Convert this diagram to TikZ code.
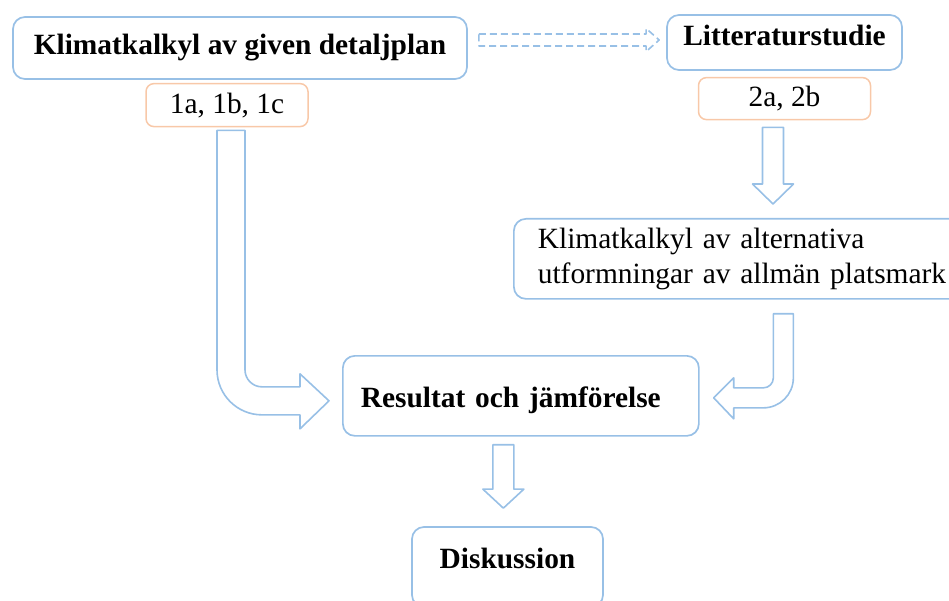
\documentclass[tikz,border=0pt]{standalone}
\usepackage{fontspec}
\setmainfont{Liberation Serif}
\usepackage{xcolor}
\usepackage{tikz}
\usetikzlibrary{positioning,calc}
\definecolor{flowblue}{RGB}{152,192,230}
\definecolor{flowpeach}{RGB}{248,200,168}

\begin{document}
\begin{tikzpicture}[
    x=1pt, y=-1pt,
    mainbox/.style={rectangle, draw=flowblue, line width=1.7pt, rounded corners=12pt, inner sep=0pt, font=\fontsize{29.4}{35}\selectfont, align=center},
    tagbox/.style={rectangle, draw=flowpeach, line width=1.5pt, rounded corners=8pt, inner sep=0pt, minimum height=42pt, font=\fontsize{29.4}{35}\selectfont},
    bold/.style={font=\fontsize{29.4}{35}\selectfont\bfseries},
    blockarrow/.style={draw=flowblue, line width=1.6pt, line join=round, fill=white},
    dashedarrow/.style={blockarrow, dash pattern=on 7pt off 4pt}
]
\useasboundingbox (0,0) rectangle (949,601);

% Given plan
\node[mainbox, bold, minimum width=454pt, minimum height=62pt] (given) at (240,48) {Klimatkalkyl av given detaljplan};
\node[tagbox, minimum width=162pt, minimum height=43pt, below=3pt of given, xshift=-13pt] (tagone) {1a, 1b, 1c};

% Literature study
\node[mainbox, bold, minimum width=235pt, minimum height=55pt, text depth=15pt] (litt) at (784.5,42.5) {Litteraturstudie};
\node[tagbox, minimum width=172pt, below=6pt of litt] (tagtwo) {2a, 2b};

% Alternatives
\node[mainbox, anchor=north west, align=left, text width=410pt, inner xsep=24pt, minimum height=80pt] (alt) at (513,218) {Klimatkalkyl av alternativa\\utformningar av allmän platsmark};

% Result
\node[mainbox, bold, anchor=north west, align=left, text width=320pt, inner xsep=18pt, minimum height=80pt, text height=30pt, text depth=6pt] (res) at (342,355) {Resultat och jämförelse};

% Discussion
\node[mainbox, bold, minimum width=191pt, minimum height=80pt, text height=20pt, text depth=18pt] (dis) at (507.5,567) {Diskussion};

% Dashed arrow
\coordinate (sa) at ($(given.east)+(11,-8)$);
\coordinate (ta) at ($(litt.west)+(-7,-2.5)$);
\draw[dashedarrow] ($(sa)+(0,-6)$) -- ($(ta)+(-13,-6)$) -- ($(ta)+(-13,-11.5)$) -- (ta)
    -- ($(ta)+(-13,11.5)$) -- ($(ta)+(-13,6)$) -- ($(sa)+(0,6)$) -- cycle;

% Bent arrow, given plan to result
\coordinate (sb) at ($(tagone.south)+(4,3)$);
\coordinate (tb) at ($(res.west)+(-13,5)$);
\draw[blockarrow] ($(sb)+(-14,0)$) -- ($(sb |- tb)+(-14,-31)$) arc[start angle=180, end angle=90, radius=45]
    -- ($(tb)+(-29,14)$) -- ($(tb)+(-29,28)$) -- (tb) -- ($(tb)+(-29,-27)$) -- ($(tb)+(-29,-14)$)
    -- ($(sb |- tb)+(31,-14)$) arc[start angle=90, end angle=180, radius=17] -- ($(sb)+(14,0)$) -- cycle;

% Down arrow, literature study to alternatives
\coordinate (sc) at ($(tagtwo.south)+(-11.5,7)$);
\coordinate (tc) at ($(sc |- alt.north)+(0,-14)$);
\draw[blockarrow] ($(sc)+(-10.5,0)$) -- ($(tc)+(-10.5,-20)$) -- ($(tc)+(-20.5,-20)$) -- (tc)
    -- ($(tc)+(20.5,-20)$) -- ($(tc)+(10.5,-20)$) -- ($(sc)+(10.5,0)$) -- cycle;

% Bent arrow, alternatives to result
\coordinate (sd) at ($(alt.south)+(40.5,14)$);
\coordinate (td) at ($(res.east)+(14,2)$);
\draw[blockarrow] ($(sd)+(10,0)$) -- ($(sd |- td)+(10,-20)$) arc[start angle=0, end angle=90, radius=30]
    -- ($(td)+(20,10)$) -- ($(td)+(20,21)$) -- (td) -- ($(td)+(20,-20)$) -- ($(td)+(20,-10)$)
    -- ($(sd |- td)+(-20,-10)$) arc[start angle=90, end angle=0, radius=10] -- ($(sd)+(-10,0)$) -- cycle;

% Down arrow, result to discussion
\coordinate (se) at ($(res.south)+(-17.5,8)$);
\coordinate (te) at ($(se |- dis.north)+(0,-18)$);
\draw[blockarrow] ($(se)+(-10.5,0)$) -- ($(te)+(-10.5,-19)$) -- ($(te)+(-20.5,-19)$) -- (te)
    -- ($(te)+(20.5,-19)$) -- ($(te)+(10.5,-19)$) -- ($(se)+(10.5,0)$) -- cycle;

\end{tikzpicture}
\end{document}
